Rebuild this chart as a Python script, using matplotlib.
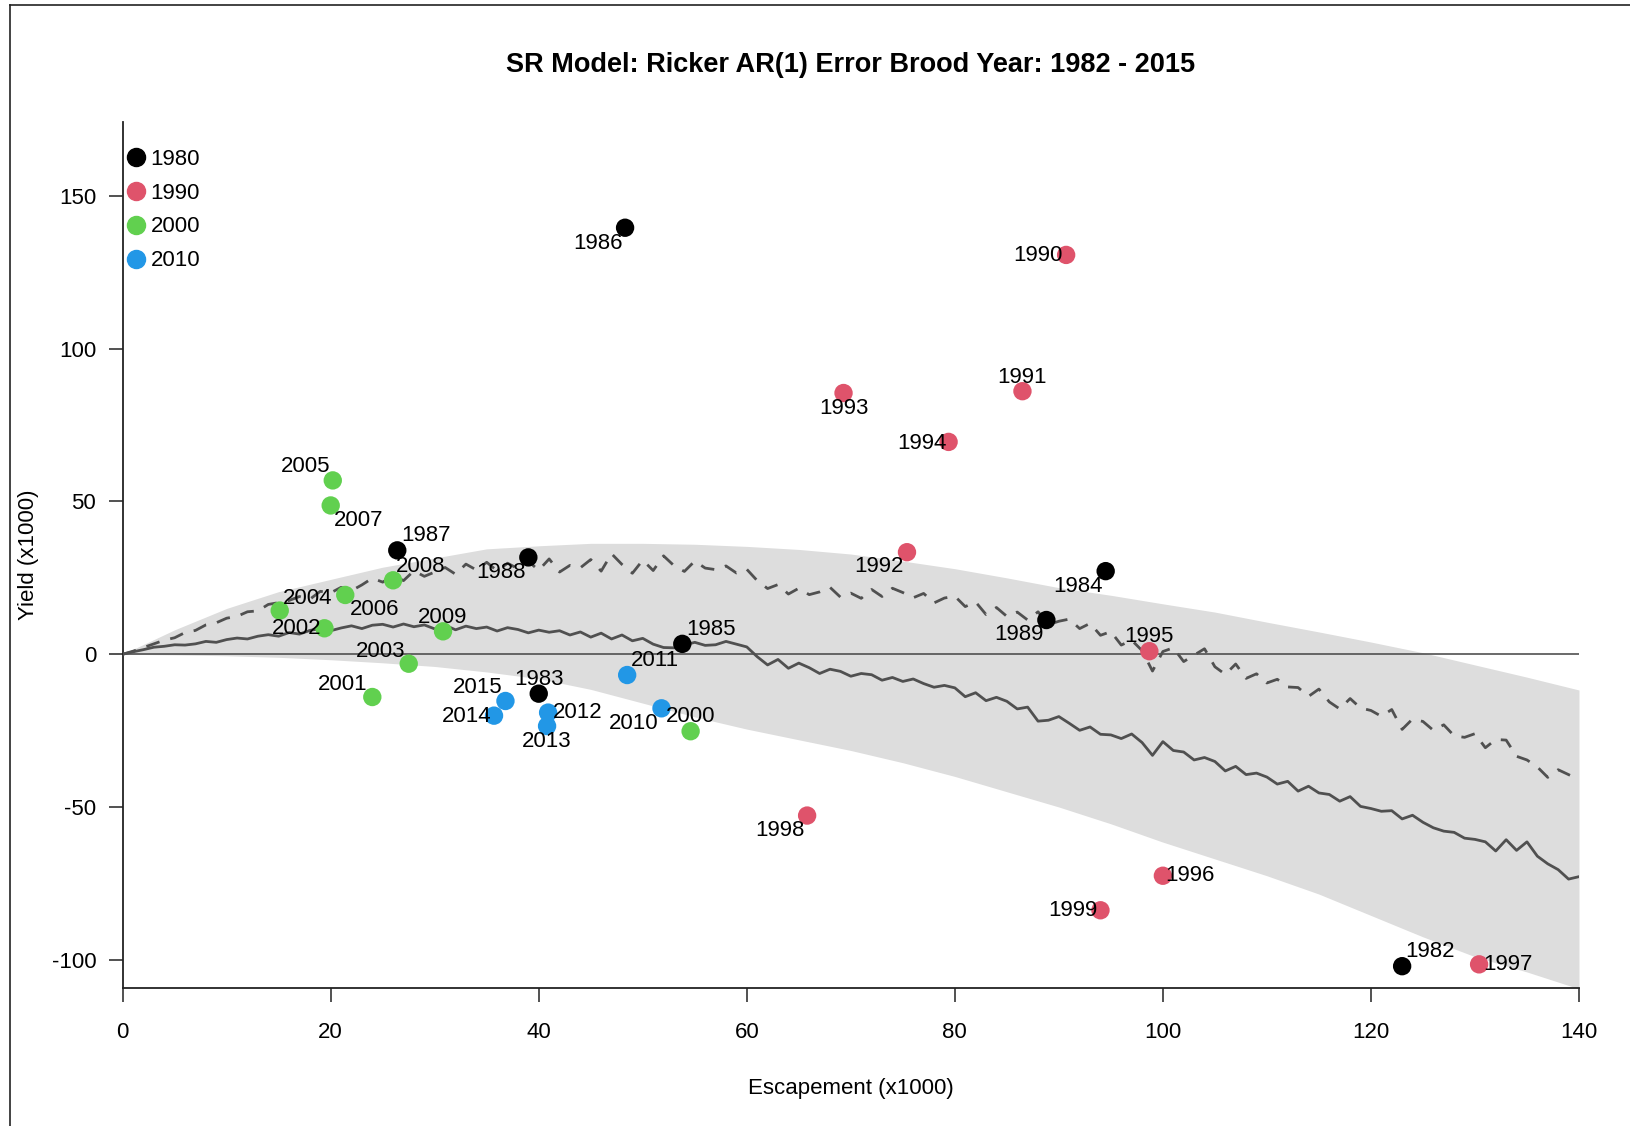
import numpy as np
import matplotlib
matplotlib.use("Agg")
import matplotlib.pyplot as plt
from matplotlib.lines import Line2D

plt.rcParams['font.family'] = ['Liberation Sans', 'DejaVu Sans']
plt.rcParams['axes.unicode_minus'] = False

# ---------------- data ----------------
years = [1982, 1983, 1984, 1985, 1986, 1987, 1988, 1989,
         1990, 1991, 1992, 1993, 1994, 1995, 1996, 1997, 1998, 1999,
         2000, 2001, 2002, 2003, 2004, 2005, 2006, 2007, 2008, 2009,
         2010, 2011, 2012, 2013, 2014, 2015]
escapement = [123.0, 40.0, 94.5, 53.8, 48.3, 26.4, 39.0, 88.8,
              90.7, 86.5, 75.4, 69.3, 79.4, 98.7, 100.0, 130.4, 65.8, 94.0,
              54.6, 24.0, 19.4, 27.5, 15.1, 20.2, 21.4, 20.0, 26.0, 30.8,
              51.8, 48.5, 40.9, 40.8, 35.7, 36.8]
yield_ = [-102.1, -12.9, 27.2, 3.4, 139.6, 34.0, 31.7, 11.2,
          130.7, 86.1, 33.4, 85.5, 69.5, 1.0, -72.5, -101.5, -52.8, -83.8,
          -25.2, -14.0, 8.5, -3.1, 14.3, 56.9, 19.4, 48.7, 24.2, 7.5,
          -17.7, -6.8, -19.1, -23.5, -20.1, -15.3]

decades = [1980, 1990, 2000, 2010]

# model curves (escapement grid 0..140 by 1)
curve_x = list(range(0, 141))
median_yield = [
    0.0, 0.8, 1.5, 2.3, 2.6, 3.1, 3.0, 3.4, 4.2, 3.9,
    4.8, 5.3, 5.0, 5.9, 6.4, 5.9, 7.1, 6.6, 7.8, 8.4,
    7.7, 8.6, 9.3, 8.4, 9.5, 9.8, 8.9, 9.9, 9.0, 9.6,
    8.3, 9.5, 8.0, 9.2, 8.4, 8.9, 7.6, 8.7, 8.1, 7.0,
    7.9, 7.2, 7.7, 6.3, 7.3, 5.6, 6.9, 5.0, 6.3, 4.4,
    5.2, 3.3, 2.2, 2.1, 3.0, 3.9, 2.9, 3.1, 4.2, 3.3,
    2.4, -0.8, -3.5, -1.7, -4.6, -2.9, -4.4, -6.3, -4.9, -5.6,
    -7.2, -6.3, -6.7, -8.5, -7.6, -8.9, -8.1, -9.6, -10.8, -10.2,
    -11.0, -13.9, -12.6, -15.2, -14.1, -15.4, -17.9, -17.3, -21.9, -21.6,
    -20.4, -22.6, -24.9, -23.8, -26.2, -26.4, -27.6, -26.1, -28.9, -33.1,
    -28.6, -31.5, -32.0, -34.6, -33.8, -35.1, -38.2, -36.7, -39.4, -38.9,
    -40.2, -42.5, -41.6, -44.8, -43.2, -45.4, -45.9, -48.1, -46.6, -49.8,
    -50.5, -51.4, -51.2, -53.9, -52.7, -55.0, -56.8, -57.9, -58.3, -60.2,
    -60.6, -61.4, -64.4, -60.7, -64.2, -61.4, -66.1, -68.6, -70.5, -73.6,
    -72.8]
mean_yield = [
    0.0, 1.0, 2.2, 3.4, 4.6, 5.4, 7.1, 7.8, 9.6, 10.3,
    11.8, 12.4, 13.9, 14.2, 16.3, 16.9, 17.6, 18.9, 18.0, 20.6,
    20.1, 21.9, 20.8, 22.7, 24.9, 23.6, 25.8, 24.1, 27.3, 25.5,
    26.9, 28.4, 26.2, 29.5, 27.6, 30.1, 27.3, 29.8, 28.0, 30.4,
    27.5, 31.2, 26.9, 29.1, 28.3, 31.0, 27.2, 32.9, 29.4, 26.5,
    30.8, 27.4, 32.2, 29.0, 27.1, 30.5, 28.2, 27.7, 28.9, 26.6,
    27.8, 24.1, 21.5, 22.8, 19.7, 21.6, 19.5, 20.4, 21.9, 18.7,
    20.0, 18.3, 21.2, 18.9, 21.6, 20.2, 18.5, 19.9, 16.8, 18.4,
    19.0, 15.6, 17.1, 13.0, 15.3, 12.4, 13.8, 11.2, 13.9, 9.7,
    10.8, 11.5, 8.4, 10.1, 6.2, 7.4, 3.0, 4.6, 1.2, -5.5,
    0.9, 2.1, -2.4, -0.3, 1.8, -4.1, -6.6, -3.2, -7.9, -6.4,
    -9.4, -8.2, -10.7, -10.9, -13.8, -11.4, -15.6, -17.9, -14.5, -17.6,
    -18.4, -20.3, -18.1, -24.6, -21.2, -22.0, -24.9, -23.1, -26.7, -27.2,
    -26.0, -30.6, -27.9, -28.1, -33.4, -34.6, -36.9, -40.3, -37.8, -39.4,
    -41.0]

# credible band (escapement grid 0..140 by 5)
band_x = list(range(0, 141, 5))
band_upper = [0.0, 8.0, 15.0, 20.5, 24.5, 28.5, 31.5, 34.5, 35.5, 36.3,
              36.3, 36.0, 35.3, 34.3, 32.8, 30.5, 28.0, 25.0, 21.8, 19.3,
              16.5, 13.8, 10.5, 7.3, 4.0, 0.5, -3.5, -7.5, -11.7]
band_lower = [0.0, -0.2, -0.5, -1.0, -1.8, -2.8, -4.0, -5.8, -8.0, -11.5,
              -16.0, -20.5, -24.5, -28.0, -31.5, -35.5, -40.0, -45.0, -50.0, -55.5,
              -61.5, -67.0, -72.5, -78.5, -85.5, -92.5, -99.0, -104.0, -109.5]

# ---------------- style ----------------
DECADE_COLORS = {1980: '#000000', 1990: '#DF536B', 2000: '#61D04F', 2010: '#2297E6'}
LABEL_OFFSETS = {
    1982: (20, 10.5), 1983: (0, 10.5), 1984: (-20, -11), 1985: (21, 10.5),
    1986: (-19.5, -11), 1987: (21, 10.5), 1988: (-19.5, -11), 1989: (-20, -10.5),
    1990: (-20, -0.5), 1991: (0, 10), 1992: (-20, -10.5), 1993: (0, -11),
    1994: (-19.5, -1.5), 1995: (0, 10.5), 1996: (19.5, 0), 1997: (21, 0),
    1998: (-19.5, -10.5), 1999: (-20, 0), 2000: (0, 10.5), 2001: (-21, 9),
    2002: (-20, 0), 2003: (-20, 9), 2004: (20, 9), 2005: (-19.5, 10),
    2006: (21, -10.5), 2007: (20, -10.5), 2008: (20, 10), 2009: (0, 10),
    2010: (-20, -11), 2011: (20, 10.5), 2012: (21, 0), 2013: (0, -11),
    2014: (-20, -0.5), 2015: (-20, 10),
}
FS = 16
LINE_COL = '#505050'

fig = plt.figure(figsize=(16.31, 11.26), dpi=100)
ax = fig.add_axes([0.0752, 0.1224, 0.8929, 0.7695])

ax.fill_between(band_x, band_lower, band_upper, color='#DDDDDD', lw=0, zorder=1)
ax.plot([0, 140], [0, 0], color=LINE_COL, lw=1.2, zorder=2)
ax.plot(curve_x, median_yield, color=LINE_COL, lw=2.0, zorder=3)
ax.plot(curve_x, mean_yield, color=LINE_COL, lw=2.0, dashes=(5, 4), zorder=3)

point_colors = [DECADE_COLORS[y // 10 * 10] for y in years]
ax.scatter(escapement, yield_, s=175, c=point_colors, zorder=5, linewidths=0)

for yr, ex, yl in zip(years, escapement, yield_):
    dx, dy = LABEL_OFFSETS[yr]
    ax.annotate(str(yr), (ex, yl), xytext=(dx, dy), textcoords='offset points',
                ha='center', va='center', fontsize=FS, zorder=6)

handles = [Line2D([], [], marker='o', ls='', color=DECADE_COLORS[d], markersize=13)
           for d in decades]
leg = ax.legend(handles, [str(d) for d in decades], loc='upper left',
                bbox_to_anchor=(0.0, 0.974), frameon=False, fontsize=FS,
                handlelength=0.8, handletextpad=0.25, labelspacing=0.58,
                borderaxespad=0, borderpad=0.2)

ax.set_xlim(0, 140)
ax.set_ylim(-109.3, 174.3)
ax.set_xticks(range(0, 141, 20))
ax.set_yticks(range(-100, 151, 50))
ax.tick_params(axis='both', labelsize=FS, length=10, width=1.1, color='#222222')
ax.tick_params(axis='x', pad=14)
ax.tick_params(axis='y', pad=9)
for s in ['top', 'right']:
    ax.spines[s].set_visible(False)
for s in ['left', 'bottom']:
    ax.spines[s].set_linewidth(1.3)
    ax.spines[s].set_color('#222222')

fig.text(0.5214, 0.9427, 'SR Model: Ricker AR(1) Error Brood Year: 1982 - 2015',
         ha='center', va='center', fontsize=19.5, fontweight='bold')
fig.text(0.5217, 0.0337, 'Escapement (x1000)', ha='center', va='center', fontsize=FS)
fig.text(0.0172, 0.5077, 'Yield (x1000)', ha='center', va='center', fontsize=FS,
         rotation=90)

# outer frame (left and top edges visible)
fig.add_artist(Line2D([0.0064, 0.0064], [0, 0.9954], transform=fig.transFigure,
                      color='#222222', lw=1.2))
fig.add_artist(Line2D([0.0064, 1.0], [0.9954, 0.9954], transform=fig.transFigure,
                      color='#222222', lw=1.2))

fig.savefig('out.png', dpi=100)
